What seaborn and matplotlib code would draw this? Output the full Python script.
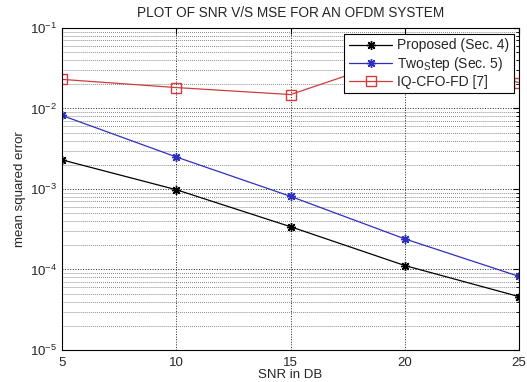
import numpy as np
import pandas as pd
import seaborn as sns
import matplotlib.pyplot as plt
from matplotlib.ticker import LogLocator, NullLocator, FixedLocator

# SNR points (dB)
snr = [5, 10, 15, 20, 25]

# MSE values
mse_proposed = [2.3e-3, 9.8e-4, 3.4e-4, 1.12e-4, 4.6e-5]
mse_twostep = [8.2e-3, 2.5e-3, 8.1e-4, 2.4e-4, 8.2e-5]
mse_iqcfo = [2.3e-2, 1.82e-2, 1.49e-2, 4.5e-2, 2.1e-2]

labels = ['Proposed (Sec. 4)', r'Two$_{\rm S}$tep (Sec. 5)', 'IQ-CFO-FD [7]']

df = pd.concat([
    pd.DataFrame({'snr': snr, 'mse': mse_proposed, 'method': labels[0]}),
    pd.DataFrame({'snr': snr, 'mse': mse_twostep, 'method': labels[1]}),
    pd.DataFrame({'snr': snr, 'mse': mse_iqcfo, 'method': labels[2]}),
], ignore_index=True)

sns.set_style('white')
plt.rcParams['font.family'] = ['Liberation Sans', 'DejaVu Sans']
plt.rcParams['mathtext.fontset'] = 'custom'
plt.rcParams['mathtext.rm'] = 'Liberation Sans'

fig = plt.figure(figsize=(5.27, 3.82), dpi=100)
ax = fig.add_axes([0.1176, 0.0838, 0.8674, 0.8429])

asterisk = (8, 2, 0)
styles = {
    labels[0]: dict(color='black', marker=asterisk, markersize=6.5),
    labels[1]: dict(color='#2f2fbf', marker=asterisk, markersize=6.5),
    labels[2]: dict(color='#d03c3c', marker='s', markersize=7),
}

for lab in labels:
    sub = df[df['method'] == lab]
    st = styles[lab]
    sns.lineplot(data=sub, x='snr', y='mse', ax=ax, label=lab, linewidth=0.9,
                 color=st['color'], marker=st['marker'], markersize=st['markersize'],
                 markerfacecolor='none', markeredgecolor=st['color'],
                 markeredgewidth=1.0)

ax.set_yscale('log')
ax.set_xlim(5, 25)
ax.set_ylim(1e-5, 1e-1)
ax.xaxis.set_major_locator(FixedLocator(snr))
ax.xaxis.set_minor_locator(NullLocator())
ax.yaxis.set_major_locator(LogLocator(base=10, numticks=10))
ax.yaxis.set_minor_locator(LogLocator(base=10, subs=np.arange(2, 10), numticks=20))

ax.grid(True, which='major', linestyle=':', color='#222222', linewidth=0.7)
ax.grid(True, which='minor', axis='y', linestyle=':', color='#444444', linewidth=0.55)

ax.tick_params(which='both', direction='in', top=True, right=True, labelsize=9.5,
               color='black')
ax.tick_params(which='major', length=4)
ax.tick_params(which='minor', length=2)
ax.tick_params(axis='x', pad=5)
for s in ax.spines.values():
    s.set_color('black')
    s.set_linewidth(0.8)

ax.set_title('PLOT OF SNR V/S MSE FOR AN OFDM SYSTEM', fontsize=9.8, pad=8)
ax.set_xlabel('SNR in DB', fontsize=9.5, labelpad=0)
ax.set_ylabel('mean squared error', fontsize=9.5, labelpad=3)

leg = ax.legend(loc='upper right', fontsize=10, frameon=True, fancybox=False,
                edgecolor='black', framealpha=1, borderpad=0.35, labelspacing=0.15,
                handlelength=3.1, handletextpad=0.3, borderaxespad=0.4)
leg.get_frame().set_linewidth(0.8)

fig.savefig('out.png', dpi=100)
